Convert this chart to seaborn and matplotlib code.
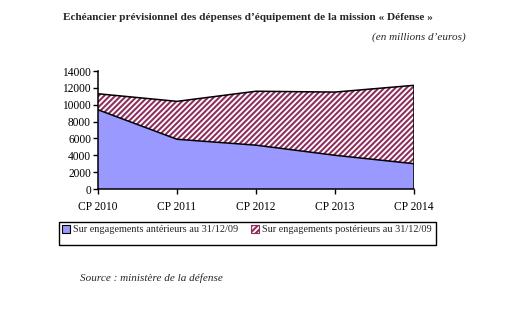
import matplotlib
matplotlib.use("Agg")
import matplotlib.pyplot as plt
import seaborn as sns
import pandas as pd
from matplotlib.patches import Patch, Rectangle

# Payment schedule (millions of euros)
years = ["CP 2010", "CP 2011", "CP 2012", "CP 2013", "CP 2014"]
anterieurs = [9400, 5900, 5200, 4000, 3000]
posterieurs = [1900, 4500, 6400, 7500, 9300]
yticks = [0, 2000, 4000, 6000, 8000, 10000, 12000, 14000]

df = pd.DataFrame({"annee": years, "ant": anterieurs, "post": posterieurs})
df["total"] = df["ant"] + df["post"]
df["x"] = range(len(df))

sns.set_style("ticks")
plt.rcParams["font.family"] = ["Liberation Serif", "DejaVu Serif"]
plt.rcParams["hatch.linewidth"] = 1.5

blue = "#9999FF"
maroon = "#8E2F5E"
hatch = "//////"

W, H = 522, 327
fig = plt.figure(figsize=(W / 100, H / 100), dpi=100)
ax = fig.add_axes([98 / W, 1 - 189 / H, 316 / W, 118 / H])

ax.fill_between(df["x"], 0, df["ant"], facecolor=blue, edgecolor="none", linewidth=0)
ax.fill_between(df["x"], df["ant"], df["total"], facecolor="white",
                edgecolor=maroon, hatch=hatch, linewidth=0)

sns.lineplot(x=df["x"], y=df["ant"], ax=ax, color="black", linewidth=1.1)
sns.lineplot(x=df["x"], y=df["total"], ax=ax, color="black", linewidth=1.1)
ax.vlines(df["x"].iloc[-1], 0, df["total"].iloc[-1], color="black", linewidth=1.1)

ax.set_xlim(0, len(df) - 1)
ax.set_ylim(0, 14000)
ax.set_yticks(yticks)
ax.set_yticklabels([str(v) for v in yticks])
ax.set_xticks(df["x"])
ax.set_xticklabels(df["annee"])
ax.set_xlabel("")
ax.set_ylabel("")
ax.tick_params(axis="both", labelsize=8.3, length=3.5, width=1, color="black",
               labelcolor="black", pad=1.5)
ax.tick_params(axis="x", pad=5)
for s in ("left", "bottom"):
    ax.spines[s].set_color("black")
    ax.spines[s].set_linewidth(1.1)
sns.despine(ax=ax)

fig.text(248 / W, 1 - 17 / H,
         "Echéancier prévisionnel des dépenses d\u2019équipement de la mission « Défense »",
         ha="center", va="center", fontsize=8.1, fontweight="bold")
fig.text(466 / W, 1 - 37 / H, "(en millions d\u2019euros)",
         ha="right", va="center", fontsize=8, style="italic")

# Legend box below the chart
fig.patches.append(Rectangle((59 / W, 1 - 245 / H), 377 / W, 23 / H,
                             transform=fig.transFigure, facecolor="none",
                             edgecolor="black", linewidth=1))
handles = [Patch(facecolor=blue, edgecolor="black", linewidth=0.8),
           Patch(facecolor="white", edgecolor=maroon, hatch=hatch, linewidth=0.8)]
fig.legend(handles, ["Sur engagements antérieurs au 31/12/09",
                     "Sur engagements postérieurs au 31/12/09"],
           loc="upper left", bbox_to_anchor=(60 / W, 1 - 223 / H),
           ncol=2, fontsize=7.35, frameon=False,
           handlelength=0.8, handleheight=0.8, handletextpad=0.25,
           columnspacing=1.3, borderpad=0.2, borderaxespad=0)

fig.text(80 / W, 1 - 278 / H, "Source : ministère de la défense",
         ha="left", va="center", fontsize=8, style="italic")

fig.savefig("out.png", dpi=100, facecolor="white")
